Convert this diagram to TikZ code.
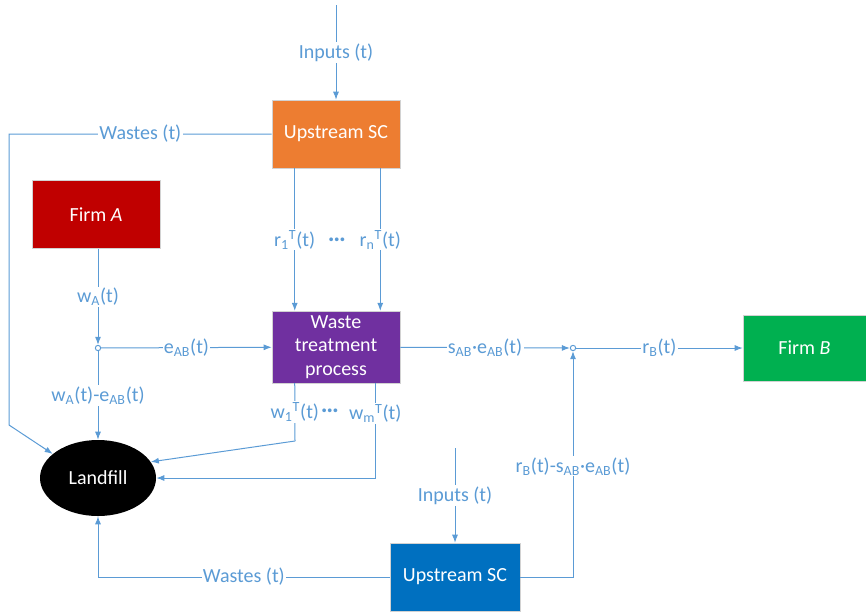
\documentclass[tikz,border=0pt]{standalone}
\usepackage{fontspec}
\setmainfont{Carlito}
\usetikzlibrary{shapes.geometric, arrows.meta, calc}
\definecolor{flow}{HTML}{5B9BD5}
\definecolor{scorange}{HTML}{ED7D31}
\definecolor{firmred}{HTML}{C00000}
\definecolor{wtpurple}{HTML}{7030A0}
\definecolor{firmgreen}{HTML}{00B050}
\definecolor{scblue}{HTML}{0070C0}
\tikzstyle{block} = [rectangle, minimum width=96pt, minimum height=51pt, text centered, align=center, draw=gray!35, text=white]
\tikzstyle{landfill} = [ellipse, minimum width=87pt, minimum height=57pt, fill=black, text=white]
\tikzstyle{junction} = [circle, draw=flow, fill=white, minimum size=4pt, inner sep=0pt, line width=0.75pt]
\tikzstyle{flowlabel} = [fill=white, text=flow, inner sep=1pt]
\tikzstyle{line} = [draw=flow, line width=0.75pt]
\tikzstyle{arrow} = [line, -{Latex[length=6pt,width=4.5pt]}]
\newcommand{\middots}{\raisebox{2.2pt}{\fontsize{19}{19}\selectfont\textbf{…}}}

\begin{document}
\begin{tikzpicture}[x=0.75pt, y=-0.75pt, font=\fontsize{15}{17.5}\selectfont]
    \useasboundingbox (0,0) rectangle (866,614);

    \node (ups1)   [block, fill=scorange] at (336,134) {Upstream SC};
    \node (firmA)  [block, fill=firmred] at (96,214.5) {Firm \textit{A}};
    \node (wtp)    [block, fill=wtpurple] at (336,347) {Waste\\treatment\\process};
    \node (firmB)  [block, fill=firmgreen, minimum width=92.25pt, minimum height=49.5pt] at (804.5,348) {Firm \textit{B}};
    \node (ups2)   [block, fill=scblue, minimum width=97.5pt] at (455,577) {Upstream SC};
    \node (land)   [landfill] at (98,478) {Landfill};

    \node (jA) [junction] at (98,348) {};
    \node (jB) [junction] at (573,348) {};

    \coordinate (intop) at (336,5);
    \coordinate (inbot) at (455,448);
    \coordinate (wtop) at (9,134);
    \coordinate (wbend) at (9,425);
    \coordinate (w1bend) at (295,441);

    \node (rdots) [text=flow, inner sep=0pt] at (337,241) {\middots};
    \node (wdots) [text=flow, inner sep=0pt] at (330,412) {\middots};

%upstream SC on top
\draw [arrow] (intop) -- node[flowlabel] {Inputs (t)} (ups1);
\draw [arrow] (ups1.west) -- node[flowlabel, pos=0.5] {Wastes (t)} (wtop)
                -- (wbend) -- (land.152);
\draw [arrow] ([xshift=17.25pt]ups1.south west) --
                node[flowlabel] {r\textsubscript{1}\textsuperscript{T}(t)} ([xshift=17.25pt]wtp.north west);
\draw [arrow] ([xshift=-15pt]ups1.south east) --
                node[flowlabel] {r\textsubscript{n}\textsuperscript{T}(t)} ([xshift=-15pt]wtp.north east);

%firm A
\draw [arrow] (firmA.south -| jA) -- node[flowlabel] {w\textsubscript{A}(t)} (jA);
\draw [arrow] (jA) -- node[flowlabel] {e\textsubscript{AB}(t)} (wtp);
\draw [arrow] (jA) -- node[flowlabel] {w\textsubscript{A}(t)-e\textsubscript{AB}(t)} (land);

%waste treatment outputs
\draw [line] ([xshift=17.25pt]wtp.south west) --
                node[flowlabel] {w\textsubscript{1}\textsuperscript{T}(t)} (w1bend);
\draw [arrow] (w1bend) -- (land.17);
\draw [arrow] ([xshift=-18.75pt]wtp.south east) |-
                node[flowlabel, pos=0.16] {w\textsubscript{m}\textsuperscript{T}(t)} (land.east);
\draw [arrow] (wtp) -- node[flowlabel] {s\textsubscript{AB}·e\textsubscript{AB}(t)} (jB);
\draw [arrow] (jB) -- node[flowlabel] {r\textsubscript{B}(t)} (firmB);

%upstream SC at the bottom
\draw [arrow] (inbot) -- node[flowlabel] {Inputs (t)} (ups2);
\draw [arrow] (ups2.west) -| node[flowlabel, pos=0.25] {Wastes (t)} (land.south);
\draw [arrow] (ups2.east) -| node[flowlabel, pos=0.745] {r\textsubscript{B}(t)-s\textsubscript{AB}·e\textsubscript{AB}(t)} (jB);

\end{tikzpicture}
\end{document}
